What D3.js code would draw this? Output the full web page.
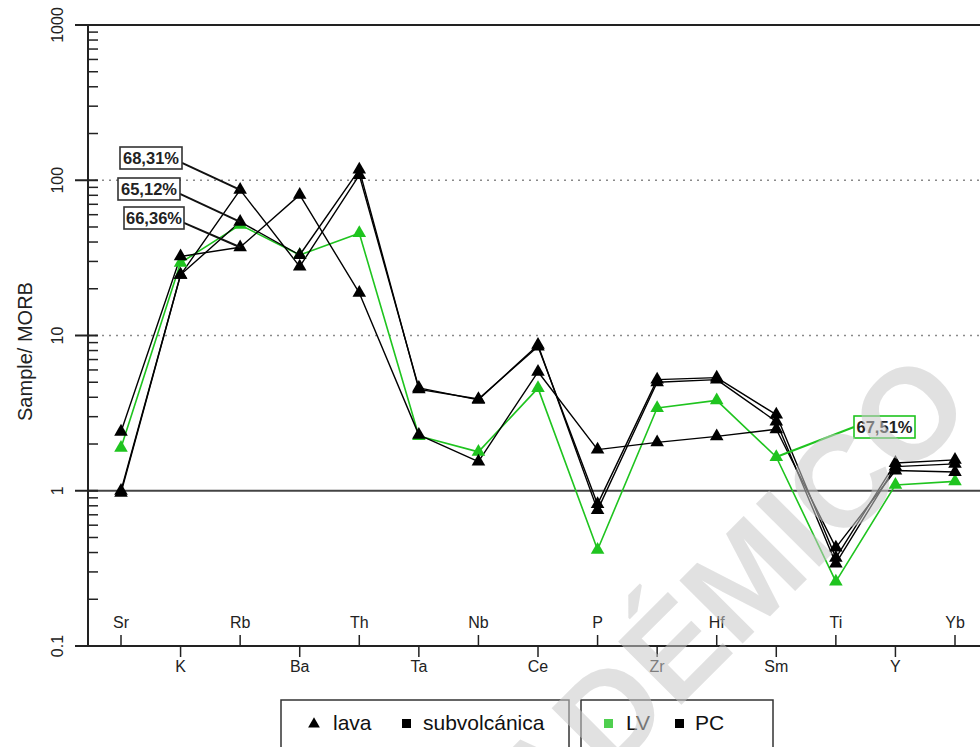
<!DOCTYPE html>
<html>
<head>
<meta charset="utf-8">
<script src="https://cdn.jsdelivr.net/npm/d3@7"></script>
<style>
  html, body { margin: 0; padding: 0; background: #fff; }
  svg { display: block; font-family: "Liberation Sans", Arial, sans-serif; }
</style>
</head>
<body>
<svg id="chart" width="980" height="747"></svg>
<script>
// Elements on the horizontal axis (MORB-normalised spider diagram)
const categories = ["Sr","K","Rb","Ba","Th","Ta","Nb","Ce","P","Zr","Hf","Sm","Ti","Y","Yb"];

// Sample / MORB values per sample
const lava6831 = [0.97, 24.6, 86.7, 27.8, 108, 4.6, 3.85, 8.7, 0.75, 5.0, 5.2, 2.79, 0.34, 1.43, 1.49];
const lava6512 = [1.0, 24.6, 54.0, 33.0, 117, 4.5, 3.9, 8.5, 0.82, 5.2, 5.35, 3.09, 0.37, 1.51, 1.58];
const lava6636 = [2.4, 32.3, 37.0, 80.5, 18.8, 2.29, 1.54, 5.84, 1.84, 2.05, 2.24, 2.49, 0.43, 1.35, 1.32];
const lava6751 = [1.89, 29.4, 51.6, 33.0, 45.6, 2.25, 1.78, 4.58, 0.417, 3.41, 3.82, 1.65, 0.26, 1.09, 1.15];

// Sample labels (SiO2 %) and the group of each sample
const sampleNames = ["68,31%", "65,12%", "66,36%", "67,51%"];
const sampleGroups = ["PC", "PC", "PC", "LV"];

// Y axis decades
const yTickValues = [0.1, 1, 10, 100, 1000];
const yTickLabels = ["0.1", "1", "10", "100", "1000"];

// Legend entries
const shapeLegend = ["lava", "subvolcánica"];
const groupLegend = ["LV", "PC"];

const colors = { LV: "#1fc41f", PC: "#000000" };

const svg = d3.select("#chart");
const plot = { left: 88, right: 1010, top: 25, bottom: 646 };

const x = d3.scalePoint().domain(categories).range([121, 955]);
const y = d3.scaleLog().domain([0.1, 1000]).range([plot.bottom, plot.top]);

const series = [
  { name: sampleNames[0], group: sampleGroups[0], values: lava6831 },
  { name: sampleNames[1], group: sampleGroups[1], values: lava6512 },
  { name: sampleNames[2], group: sampleGroups[2], values: lava6636 },
  { name: sampleNames[3], group: sampleGroups[3], values: lava6751 }
];

// Horizontal reference lines
const g = svg.append("g");
[10, 100].forEach(v => {
  g.append("line")
    .attr("x1", plot.left).attr("x2", plot.right)
    .attr("y1", y(v)).attr("y2", y(v))
    .attr("stroke", "#8a8a8a").attr("stroke-width", 1.5)
    .attr("stroke-dasharray", "2,5");
});
g.append("line")
  .attr("x1", plot.left).attr("x2", plot.right)
  .attr("y1", y(1)).attr("y2", y(1))
  .attr("stroke", "#444").attr("stroke-width", 2);

// Frame: top border
g.append("line")
  .attr("x1", 75).attr("x2", plot.right)
  .attr("y1", y(1000)).attr("y2", y(1000))
  .attr("stroke", "#222").attr("stroke-width", 2);

// Y axis: major ticks cross the axis, minor ticks point inward
const yAxis = svg.append("g").attr("transform", `translate(${plot.left},0)`);
yAxis.append("line")
  .attr("x1", 0).attr("x2", 0).attr("y1", plot.top).attr("y2", plot.bottom)
  .attr("stroke", "#222").attr("stroke-width", 2);
const minor = [];
for (let d = 0.1; d < 1000; d *= 10) {
  for (let k = 2; k <= 9; k++) minor.push(+(d * k).toPrecision(3));
}
yAxis.selectAll("line.minor").data(minor).join("line")
  .attr("class", "minor")
  .attr("x1", 0).attr("x2", 10)
  .attr("y1", d => y(d)).attr("y2", d => y(d))
  .attr("stroke", "#222").attr("stroke-width", 1.5);
yAxis.selectAll("line.major").data(yTickValues).join("line")
  .attr("class", "major")
  .attr("x1", -13).attr("x2", 10)
  .attr("y1", d => y(d)).attr("y2", d => y(d))
  .attr("stroke", "#222").attr("stroke-width", 2);
yAxis.selectAll("text.ylab").data(yTickValues).join("text")
  .attr("class", "ylab")
  .attr("transform", d => `translate(-25,${y(d)}) rotate(-90)`)
  .attr("text-anchor", "middle")
  .attr("font-size", 16)
  .attr("fill", "#222")
  .text((d, i) => yTickLabels[i]);

svg.append("text")
  .attr("transform", `translate(32,${(plot.top + plot.bottom) / 2 + 16}) rotate(-90)`)
  .attr("text-anchor", "middle")
  .attr("font-size", 20)
  .attr("fill", "#222")
  .text("Sample/ MORB");

// X axis with alternating label rows
const xAxis = svg.append("g");
xAxis.append("line")
  .attr("x1", 75).attr("x2", plot.right)
  .attr("y1", plot.bottom).attr("y2", plot.bottom)
  .attr("stroke", "#222").attr("stroke-width", 2);
const xt = xAxis.selectAll("g.xt").data(categories).join("g")
  .attr("class", "xt")
  .attr("transform", d => `translate(${x(d)},${plot.bottom})`);
xt.append("line")
  .attr("x1", 0).attr("x2", 0)
  .attr("y1", 0).attr("y2", (d, i) => i % 2 === 0 ? -11 : 11)
  .attr("stroke", "#222").attr("stroke-width", 1.5);
xt.append("text")
  .attr("text-anchor", "middle")
  .attr("y", (d, i) => i % 2 === 0 ? -18 : 26)
  .attr("font-size", 16)
  .attr("fill", "#222")
  .text(d => d);

// Sample lines and triangle markers
const line = d3.line()
  .x((d, i) => x(categories[i]))
  .y(d => y(d));
const tri = d3.symbol().type(d3.symbolTriangle).size(80);

const drawOrder = [3, 0, 1, 2];
const lines = svg.append("g");
drawOrder.forEach(si => {
  const s = series[si];
  lines.append("path")
    .attr("d", line(s.values))
    .attr("fill", "none")
    .attr("stroke", colors[s.group])
    .attr("stroke-width", s.group === "LV" ? 1.6 : 1.4)
    .attr("stroke-linejoin", "round");
});
const marks = svg.append("g");
drawOrder.forEach(si => {
  const s = series[si];
  marks.selectAll(null).data(s.values).join("path")
    .attr("d", tri)
    .attr("transform", (d, i) => `translate(${x(categories[i])},${y(d)})`)
    .attr("fill", colors[s.group]);
});

// Sample name callouts
const callouts = [
  { si: 0, cat: "Rb", bx: 120, by: 147, bw: 62 },
  { si: 1, cat: "Rb", bx: 118, by: 178, bw: 62 },
  { si: 2, cat: "Rb", bx: 124, by: 207, bw: 60 },
  { si: 3, cat: "Sm", bx: 854, by: 416, bw: 61 }
];
const cg = svg.append("g");
callouts.forEach(c => {
  const s = series[c.si];
  const ci = categories.indexOf(c.cat);
  const px = x(c.cat), py = y(s.values[ci]);
  const col = s.group === "LV" ? colors.LV : "#111";
  const bh = 22;
  const isLeft = c.bx < px;
  const lx = isLeft ? c.bx + c.bw : c.bx;
  const ly = c.by + bh * (isLeft ? 0.72 : 0.5);
  cg.append("line")
    .attr("x1", lx).attr("y1", ly).attr("x2", px).attr("y2", py)
    .attr("stroke", col).attr("stroke-width", 2);
  cg.append("rect")
    .attr("x", c.bx).attr("y", c.by).attr("width", c.bw).attr("height", bh)
    .attr("fill", "#fff").attr("stroke", s.group === "LV" ? colors.LV : "#333")
    .attr("stroke-width", 1.6);
  cg.append("text")
    .attr("x", c.bx + c.bw / 2).attr("y", c.by + bh / 2 + 5.5)
    .attr("text-anchor", "middle")
    .attr("font-size", 16.5).attr("font-weight", "bold")
    .attr("fill", "#222")
    .text(s.name);
});

// Legend boxes
const lg = svg.append("g").attr("font-size", 21).attr("fill", "#111");
lg.append("rect").attr("x", 281).attr("y", 700).attr("width", 288).attr("height", 70)
  .attr("fill", "#fff").attr("stroke", "#333").attr("stroke-width", 1.5);
lg.append("rect").attr("x", 581).attr("y", 700).attr("width", 192).attr("height", 70)
  .attr("fill", "#fff").attr("stroke", "#333").attr("stroke-width", 1.5);
const ly0 = 723;
lg.append("path").attr("d", d3.symbol().type(d3.symbolTriangle).size(60)())
  .attr("transform", `translate(314,${ly0 + 1})`).attr("fill", "#000");
lg.append("text").attr("x", 333).attr("y", ly0 + 7).text(shapeLegend[0]);
lg.append("rect").attr("x", 402).attr("y", ly0 - 4).attr("width", 9).attr("height", 9).attr("fill", "#000");
lg.append("text").attr("x", 423).attr("y", ly0 + 7).text(shapeLegend[1]);
lg.append("rect").attr("x", 604).attr("y", ly0 - 4).attr("width", 9).attr("height", 9).attr("fill", "#4fcf4f");
lg.append("text").attr("x", 626).attr("y", ly0 + 7).text(groupLegend[0]);
lg.append("rect").attr("x", 675).attr("y", ly0 - 4).attr("width", 9).attr("height", 9).attr("fill", "#000");
lg.append("text").attr("x", 695).attr("y", ly0 + 7).text(groupLegend[1]);

// Translucent diagonal stamp over the drawing
svg.append("text")
  .attr("transform", "translate(660,660) rotate(-45)")
  .attr("text-anchor", "middle")
  .attr("dy", "0.36em")
  .attr("font-size", 130)
  .attr("font-weight", "bold")
  .attr("fill", "#c8c8c8")
  .attr("fill-opacity", 0.55)
  .text("ACADÉMICO");
</script>
</body>
</html>
